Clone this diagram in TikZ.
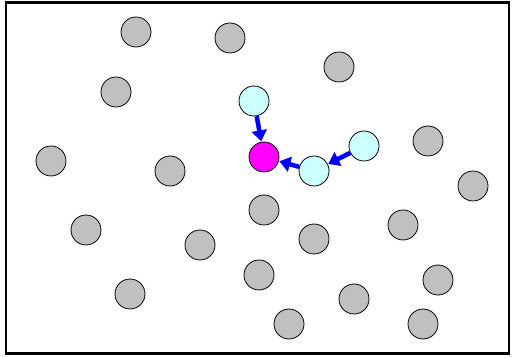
\documentclass[tikz,border=0pt]{standalone}
\usetikzlibrary{arrows.meta}
\definecolor{dotgray}{HTML}{C0C0C0}
\definecolor{lightcyan}{HTML}{CCFFFF}
\definecolor{pinkmag}{HTML}{FF00FF}
\definecolor{pureblue}{HTML}{0000FF}
\begin{document}
\begin{tikzpicture}[x=1pt,y=-1pt,
  dot/.style={circle,draw=black,line width=0.8pt,minimum size=30pt,inner sep=0pt,fill=dotgray},
  cyandot/.style={dot,fill=lightcyan},
  magdot/.style={dot,fill=pinkmag},
  flow/.style={draw=pureblue,line width=4.5pt,-{Triangle[length=11pt,width=15pt]},shorten >=0.5pt}]
\useasboundingbox (0,0) rectangle (512,358);
\node[draw=black,line width=2.5pt,minimum width=503pt,minimum height=351pt,inner sep=0pt] (frame) at (257.5,178) {};
\node[dot] (n1) at (136,32) {};
\node[dot] (n2) at (230,38) {};
\node[dot] (n3) at (339,67) {};
\node[dot] (n4) at (116,92) {};
\node[cyandot] (c1) at (254,101) {};
\node[cyandot] (c2) at (364,146) {};
\node[dot] (n7) at (428,141) {};
\node[dot] (n8) at (51,161) {};
\node[dot] (n9) at (170,171) {};
\node[magdot] (m) at (264,157) {};
\node[cyandot] (c3) at (314,171) {};
\node[dot] (n12) at (473,186) {};
\node[dot] (n13) at (264,210) {};
\node[dot] (n14) at (86,230) {};
\node[dot] (n15) at (200,245) {};
\node[dot] (n16) at (314,239) {};
\node[dot] (n17) at (403,225) {};
\node[dot] (n18) at (259,275) {};
\node[dot] (n19) at (438,280) {};
\node[dot] (n20) at (130,294) {};
\node[dot] (n21) at (354,299) {};
\node[dot] (n22) at (289,324) {};
\node[dot] (n23) at (423,324) {};
\draw[flow] (c1) -- (m);
\draw[flow] (c3) -- (m);
\draw[flow] (c2) -- (c3);
\end{tikzpicture}
\end{document}
